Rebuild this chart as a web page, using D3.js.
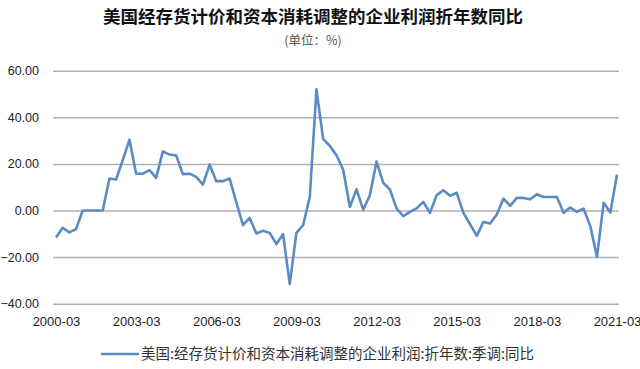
<!DOCTYPE html>
<html><head><meta charset="utf-8">
<script src="https://cdn.jsdelivr.net/npm/d3@7/dist/d3.min.js"></script>
<style>
html,body{margin:0;padding:0;background:#fff;}
svg{display:block;}
</style></head>
<body>
<svg id="chart" width="640" height="369"></svg>
<script>
const quarters = [
"2000-03","2000-06","2000-09","2000-12","2001-03","2001-06","2001-09","2001-12",
"2002-03","2002-06","2002-09","2002-12","2003-03","2003-06","2003-09","2003-12",
"2004-03","2004-06","2004-09","2004-12","2005-03","2005-06","2005-09","2005-12",
"2006-03","2006-06","2006-09","2006-12","2007-03","2007-06","2007-09","2007-12",
"2008-03","2008-06","2008-09","2008-12","2009-03","2009-06","2009-09","2009-12",
"2010-03","2010-06","2010-09","2010-12","2011-03","2011-06","2011-09","2011-12",
"2012-03","2012-06","2012-09","2012-12","2013-03","2013-06","2013-09","2013-12",
"2014-03","2014-06","2014-09","2014-12","2015-03","2015-06","2015-09","2015-12",
"2016-03","2016-06","2016-09","2016-12","2017-03","2017-06","2017-09","2017-12",
"2018-03","2018-06","2018-09","2018-12","2019-03","2019-06","2019-09","2019-12",
"2020-03","2020-06","2020-09","2020-12","2021-03"];

const profitYoY = [
-11.6,-7.4,-9.4,-8.0,0.0,0.0,0.0,0.0,
13.7,13.3,21.6,30.4,15.8,15.8,17.3,14.0,
25.4,24.0,23.6,15.6,15.8,14.4,11.1,19.7,
12.6,12.6,13.7,3.5,-6.3,-3.2,-9.9,-8.7,
-9.6,-14.4,-10.2,-31.6,-9.6,-6.3,5.8,52.0,
30.7,27.7,23.7,17.5,1.5,9.1,0.3,6.6,
21.0,11.9,9.0,0.8,-2.4,-0.6,0.9,3.7,
-1.0,6.6,8.7,6.3,7.6,-1.0,-5.9,-10.9,
-4.9,-5.6,-1.7,5.1,2.0,5.4,5.4,4.8,
7.0,5.8,5.8,5.8,-1.0,1.3,-0.6,0.8,
-6.7,-19.9,3.3,-0.9,15.4];

const xTickLabels = ["2000-03","2003-03","2006-03","2009-03","2012-03","2015-03","2018-03","2021-03"];
const yTicks = [-40,-20,0,20,40,60];

const title = "美国经存货计价和资本消耗调整的企业利润折年数同比";
const subtitle = "(单位：%)";
const seriesName = "美国:经存货计价和资本消耗调整的企业利润:折年数:季调:同比";

const svg = d3.select("#chart");
const gridLeft = 53, gridRight = 619;

const x = d3.scalePoint().domain(quarters).range([56, 617]);
const y = d3.scaleLinear().domain([-40, 60]).range([303.7, 70.7]);

// title
svg.append("text").attr("x", 313).attr("y", 23).attr("text-anchor", "middle")
  .style("font-family", "'Noto Sans CJK SC'").style("font-weight", "bold")
  .style("font-size", "17.5px").style("fill", "#111").text(title);
svg.append("text").attr("x", 313).attr("y", 45).attr("text-anchor", "middle")
  .style("font-family", "'Noto Sans CJK SC'")
  .style("font-size", "12.5px").style("fill", "#555").text(subtitle);

// y axis with gridlines
const yAxis = svg.append("g").attr("transform", `translate(${gridLeft},0)`)
  .call(d3.axisLeft(y).tickValues(yTicks).tickFormat(d3.format(".2f"))
    .tickSize(-(gridRight - gridLeft)).tickPadding(14));
yAxis.select(".domain").remove();
yAxis.selectAll(".tick line").attr("stroke", "#b0b0b0").attr("stroke-width", 1.5);
yAxis.selectAll(".tick text").style("font-family", "'Liberation Sans', Arial, sans-serif")
  .style("font-size", "12.5px").style("fill", "#222");

// x axis labels
const xAxis = svg.append("g").attr("transform", `translate(0,${y(-40)})`)
  .call(d3.axisBottom(x).tickValues(xTickLabels).tickSize(0).tickPadding(13));
xAxis.select(".domain").remove();
xAxis.selectAll(".tick text").style("font-family", "'Liberation Sans', Arial, sans-serif")
  .style("font-size", "13px").style("fill", "#222");

// line
const line = d3.line().x((d, i) => x(quarters[i])).y(d => y(d));
svg.append("path").datum(profitYoY).attr("d", line)
  .attr("fill", "none").attr("stroke", "#5b8bc3").attr("stroke-width", 2.6)
  .attr("stroke-linejoin", "round");

// legend
const lg = svg.append("g");
lg.append("line").attr("x1", 101).attr("x2", 139).attr("y1", 354).attr("y2", 354)
  .attr("stroke", "#5b8bc3").attr("stroke-width", 2.6);
lg.append("text").attr("x", 141).attr("y", 359)
  .style("font-family", "'Noto Sans CJK SC'").style("font-size", "14.5px")
  .style("fill", "#333").text(seriesName);
</script>
</body></html>
